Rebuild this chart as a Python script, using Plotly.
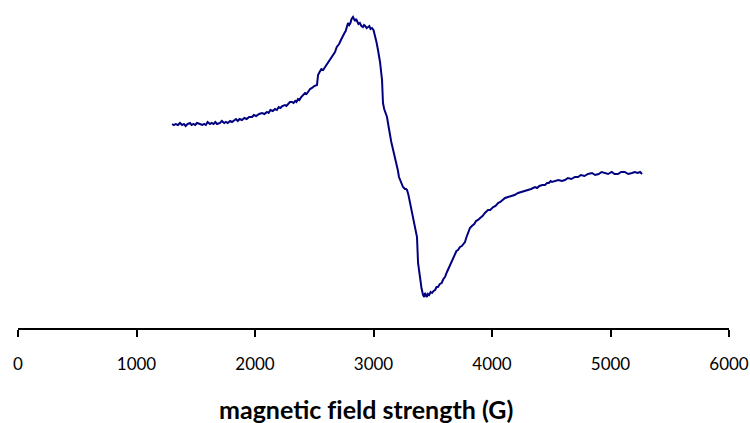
import plotly.graph_objects as go

# EPR derivative spectrum: field (G) vs. signal (arbitrary units)
field_G = [
    1300, 1315, 1330, 1350, 1367, 1385, 1400, 1415, 1430, 1451, 1465, 1480,
    1495, 1510, 1536, 1555, 1570, 1585, 1600, 1620, 1635, 1650, 1665, 1680,
    1705, 1720, 1740, 1755, 1770, 1790, 1806, 1825, 1840, 1855, 1870, 1890,
    1910, 1930, 1950, 1975, 1990, 2010, 2035, 2059, 2080, 2100, 2115, 2130,
    2150, 2169, 2185, 2200, 2215, 2230, 2253, 2265, 2280, 2295, 2312, 2325,
    2340, 2350, 2363, 2375, 2390, 2405, 2422, 2435, 2450, 2465, 2481, 2500,
    2523, 2532, 2545, 2560, 2575, 2591, 2610, 2630, 2650, 2675, 2690, 2710,
    2725, 2743, 2755, 2765, 2775, 2785, 2795, 2805, 2815, 2827, 2835, 2845,
    2853, 2861, 2873, 2885, 2898, 2911, 2920, 2930, 2942, 2954, 2965, 2975,
    2987, 3000, 3013, 3025, 3038, 3055, 3072, 3080, 3090, 3100, 3114, 3125,
    3139, 3150, 3160, 3170, 3181, 3195, 3205, 3215, 3224, 3236, 3249, 3258,
    3265, 3275, 3283, 3295, 3308, 3320, 3333, 3350, 3367, 3376, 3392, 3405,
    3418, 3428, 3435, 3443, 3451, 3460, 3470, 3482, 3494, 3507, 3520, 3532,
    3544, 3560, 3575, 3590, 3603, 3620, 3635, 3648, 3662, 3676, 3690, 3700,
    3713, 3730, 3745, 3760, 3772, 3785, 3795, 3805, 3814, 3830, 3850, 3865,
    3882, 3900, 3920, 3940, 3966, 3985, 4010, 4030, 4051, 4070, 4090, 4110,
    4135, 4160, 4190, 4220, 4253, 4275, 4300, 4330, 4363, 4380, 4400, 4425,
    4447, 4465, 4480, 4495, 4506, 4530, 4560, 4590, 4616, 4640, 4670, 4700,
    4726, 4750, 4780, 4810, 4844, 4870, 4900, 4925, 4954, 4980, 5010, 5035,
    5063, 5090, 5120, 5150, 5181, 5205, 5230, 5250, 5266,
]
signal = [
    26, 25, 26, 25, 27, 25, 26, 24, 26, 27, 25, 26,
    25, 27, 26, 25, 26, 25, 28, 26, 27, 26, 28, 26,
    27, 29, 27, 28, 27, 29, 28, 30, 31, 29, 31, 30,
    32, 31, 33, 33, 35, 34, 36, 37, 36, 38, 37, 40,
    39, 41, 40, 43, 42, 44, 45, 44, 46, 48, 48, 47,
    49, 48, 51, 50, 53, 55, 57, 56, 59, 61, 62, 64,
    65, 75, 78, 81, 80, 83, 86, 90, 93, 98, 103, 106,
    110, 115, 117, 119, 123, 127, 125, 127, 131, 133, 131, 129,
    131, 128, 126, 127, 124, 123, 125, 124, 122, 123, 124, 121,
    122, 120, 115, 108, 100, 88, 70, 47, 41, 38, 33, 25,
    13, 8, 3, -2, -7, -12, -20, -27, -30, -34, -37, -38,
    -39, -39, -40, -45, -52, -59, -68, -78, -87, -113, -130, -138,
    -145, -147, -143, -146, -147, -144, -145, -142, -143, -141, -140, -137,
    -137, -134, -133, -129, -127, -122, -118, -115, -110, -107, -104, -101,
    -100, -97, -96, -93, -92, -87, -84, -80, -78, -76, -74, -71,
    -70, -68, -66, -63, -60, -60, -57, -56, -53, -52, -50, -48,
    -47, -46, -45, -43, -42, -41, -40, -39, -37, -38, -36, -35,
    -35, -33, -33, -31, -32, -31, -30, -31, -30, -28, -29, -27,
    -27, -25, -26, -24, -23, -25, -24, -22, -23, -24, -22, -24,
    -24, -22, -22, -24, -23, -22, -23, -22, -24,
]

x_ticks = [0, 1000, 2000, 3000, 4000, 5000, 6000]

fig = go.Figure(
    go.Scatter(
        x=field_G,
        y=signal,
        mode="lines",
        line=dict(color="#000080", width=2),
        hoverinfo="x+y",
    )
)

fig.update_layout(
    width=750,
    height=423,
    margin=dict(l=18, r=21, t=0, b=95),
    paper_bgcolor="white",
    plot_bgcolor="white",
    showlegend=False,
    font=dict(family="Lato, Open Sans, sans-serif", color="black"),
)

fig.update_xaxes(
    range=[0, 6000],
    tickvals=x_ticks,
    ticktext=[str(v) for v in x_ticks],
    showgrid=False,
    zeroline=False,
    showline=True,
    linecolor="black",
    linewidth=1.5,
    ticks="outside",
    ticklen=7,
    tickwidth=1.5,
    tickcolor="black",
    tickfont=dict(size=17, color="black"),
    ticklabelstandoff=13,
)
fig.update_yaxes(range=[-178, 150], visible=False)

# zero-width non-joiner keeps "f" and "i" as separate glyphs
fig.add_annotation(
    text="<b>magnetic f\u200cield strength (G)</b>",
    xref="paper", yref="paper",
    x=0.49, y=-0.247,
    xanchor="center", yanchor="middle",
    showarrow=False,
    font=dict(size=25, color="black", family="Lato, Open Sans, sans-serif"),
)

fig.write_html("out.html")
